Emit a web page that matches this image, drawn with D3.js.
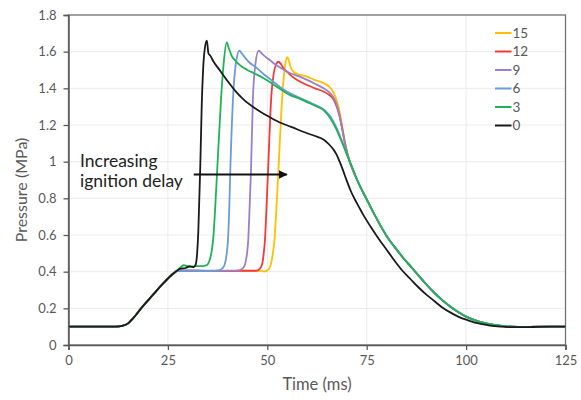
<!DOCTYPE html>
<html><head><meta charset="utf-8">
<script src="https://cdn.jsdelivr.net/npm/d3@7"></script>
<style>body{margin:0;background:#fff}svg{display:block}</style>
</head><body>
<svg id="c" width="581" height="400"></svg>
<script>
// ---- data (time ms, pressure MPa) ----
const seriesNames = ["15","12","9","6","3","0"];
const seriesColors = ["#FFC000","#F23A3A","#9B7FC9","#6C9BD6","#1DB356","#1a1a1a"];
const xTicks = [0,25,50,75,100,125];
const yTicks = [0,0.2,0.4,0.6,0.8,1,1.2,1.4,1.6,1.8];

const compressionRise = [[0,0.1],[5,0.1],[10,0.1],[12,0.1],[13.5,0.104],[15,0.118],[16,0.14],[17,0.165],[18,0.193],[20,0.243],[22,0.293],[24,0.34],[26,0.383],[27.3,0.405]];

const p15 = [[28,0.405],[32,0.405],[36,0.404],[40,0.404],[44,0.405],[48,0.404],[49.3,0.401],[50.2,0.41],[50.9,0.44],[51.4,0.5],[51.8,0.57],[52.3,0.75],[52.8,0.955],[53.6,1.3],[54.1,1.45],[54.6,1.54],[55.1,1.57],[55.5,1.545],[55.9,1.515],[56.6,1.49],[58,1.475],[60,1.464],[62,1.445],[64.2,1.428],[65.5,1.41],[66.3,1.39],[67.2,1.35],[68,1.29],[68.8,1.2],[69.6,1.1],[70.5,1.02],[71.5,0.96]];
const p12 = [[28,0.405],[32,0.405],[36,0.404],[40,0.404],[44,0.405],[47.2,0.405],[48.1,0.415],[48.7,0.44],[49.1,0.5],[49.4,0.57],[49.8,0.75],[50.2,0.955],[51,1.355],[51.6,1.48],[52.2,1.53],[52.8,1.545],[53.5,1.53],[54.2,1.505],[55,1.49],[56.2,1.465],[57.5,1.446],[60,1.418],[62,1.4],[64.2,1.382],[65.5,1.365],[66.5,1.345],[67.3,1.31],[68.1,1.255],[68.9,1.17],[69.7,1.08],[70.5,1.015],[71.5,0.955]];
const p9 = [[28,0.405],[32,0.405],[36,0.404],[40,0.405],[42.8,0.407],[43.8,0.418],[44.4,0.44],[44.9,0.5],[45.2,0.57],[45.55,0.75],[45.9,0.955],[46.4,1.355],[47,1.53],[47.8,1.605],[48.4,1.595],[49.1,1.58],[50.3,1.56],[51.6,1.537],[53.5,1.51],[55.8,1.482],[58,1.465],[60,1.446],[62,1.425],[64.2,1.4],[65.5,1.38],[66.5,1.355],[67.3,1.32],[68.1,1.26],[68.9,1.175],[69.7,1.085],[70.5,1.015],[71.5,0.955]];
const p6 = [[28,0.405],[32,0.405],[36,0.405],[37.7,0.407],[38.7,0.418],[39.3,0.44],[39.8,0.5],[40.1,0.57],[40.4,0.72],[40.7,0.955],[41.4,1.355],[42,1.52],[43,1.605],[43.6,1.59],[44.3,1.57],[45.3,1.545],[47.4,1.51],[49.5,1.47],[51.6,1.435],[54,1.395],[56,1.37],[58,1.35],[60,1.33],[62,1.31],[64.2,1.285],[65.9,1.245],[67.4,1.185],[68.9,1.105],[70.2,1.03],[71.5,0.96]];
const p3 = [[28,0.42],[29,0.435],[30.5,0.425],[32,0.43],[33.5,0.43],[34.2,0.432],[35,0.44],[35.6,0.47],[36,0.51],[36.4,0.58],[36.9,0.75],[37.4,0.955],[38.4,1.355],[39,1.53],[39.8,1.65],[40.3,1.62],[41.1,1.575],[42,1.55],[43.2,1.525],[45,1.5],[47.4,1.475],[49.5,1.45],[51.6,1.42],[54,1.385],[56,1.36],[58,1.345],[60,1.325],[62,1.305],[64.2,1.28],[65.9,1.235],[67.4,1.175],[68.9,1.1],[70.2,1.03],[71.5,0.96]];
const coloredTail = [[72.6,0.9],[75.1,0.79],[77.6,0.685],[80,0.595],[82,0.535],[84,0.48],[86,0.43],[88,0.38],[90,0.33],[92,0.285],[94,0.245],[96,0.21],[98,0.18],[100,0.155],[102,0.137],[104,0.123],[107,0.11],[110,0.102],[113,0.099],[116,0.099],[120,0.1],[125,0.1]];
const p0 = [[28,0.415],[29.5,0.42],[30.5,0.43],[31.5,0.425],[32,0.44],[32.35,0.5],[32.65,0.62],[32.9,0.8],[33.15,0.98],[33.5,1.3],[33.9,1.52],[34.3,1.62],[34.8,1.66],[35.2,1.59],[35.6,1.58],[36.5,1.545],[38,1.5],[40,1.44],[42,1.385],[44,1.34],[47,1.29],[50,1.25],[53,1.215],[56,1.19],[60,1.155],[62,1.14],[64.2,1.12],[65.5,1.095],[66.5,1.07],[67.4,1.04],[68.2,1.0],[69,0.955],[70,0.895],[71,0.84],[72,0.795],[73,0.755],[74,0.715],[76,0.645],[78,0.58],[80,0.52],[82,0.46],[84,0.405],[86,0.36],[88,0.315],[90,0.275],[92,0.24],[94,0.205],[96,0.178],[98,0.155],[100,0.138],[102,0.124],[104,0.114],[106,0.106],[108.7,0.1],[112,0.097],[115,0.097],[118,0.099],[121,0.1],[125,0.1]];

const seriesData = [
  compressionRise.concat(p15, coloredTail),
  compressionRise.concat(p12, coloredTail),
  compressionRise.concat(p9, coloredTail),
  compressionRise.concat(p6, coloredTail),
  compressionRise.concat(p3, coloredTail),
  compressionRise.concat(p0)
];
const annotationLines = ["Increasing","ignition delay"];
const arrowFrom = [31.5, 0.93], arrowTo = [54.9, 0.93];

// ---- drawing ----
const svg = d3.select("#c");
const L = 68.5, R = 565.5, T = 15, B = 345;
const x = d3.scaleLinear().domain([0,125]).range([L,R]);
const y = d3.scaleLinear().domain([0,1.8]).range([B,T]);
const font = "Lato, 'Open Sans', sans-serif";
const grey = "#595959";

// gridlines
svg.append("g").selectAll("line").data(yTicks).join("line")
  .attr("x1",L).attr("x2",R).attr("y1",d=>y(d)).attr("y2",d=>y(d))
  .attr("stroke","#ebebeb").attr("stroke-width",1);
svg.append("g").selectAll("line").data(xTicks).join("line")
  .attr("y1",T).attr("y2",B).attr("x1",d=>x(d)).attr("x2",d=>x(d))
  .attr("stroke","#ebebeb").attr("stroke-width",1);

// frame
svg.append("rect").attr("x",L).attr("y",T).attr("width",R-L).attr("height",B-T)
  .attr("fill","none").attr("stroke","#737373").attr("stroke-width",1.3);

// axes
const xAxis = d3.axisBottom(x).tickValues(xTicks).tickSize(5).tickPadding(6).tickFormat(d3.format("d"));
const gx = svg.append("g").attr("transform",`translate(0,${B})`).call(xAxis);
const yAxis = d3.axisLeft(y).tickValues(yTicks).tickSize(5).tickPadding(7).tickFormat(d=>d3.format("")(d));
const gy = svg.append("g").attr("transform",`translate(${L},0)`).call(yAxis);
[gx,gy].forEach(g=>{
  g.select(".domain").attr("stroke","#595959").attr("stroke-width",1.5);
  g.selectAll(".tick line").attr("stroke","#595959").attr("stroke-width",1.3);
  g.selectAll(".tick text").attr("fill",grey).attr("font-family",font).attr("font-size",13);
});

// axis titles
svg.append("text").attr("x",(L+R)/2).attr("y",390).attr("text-anchor","middle")
  .attr("font-family",font).attr("font-size",16.5).attr("fill",grey).text("Time (ms)");
svg.append("text").attr("transform",`translate(27,${(T+B)/2+10}) rotate(-90)`).attr("text-anchor","middle")
  .attr("font-family",font).attr("font-size",16).attr("fill",grey).text("Pressure (MPa)");

// series
const line = d3.line().x(d=>x(d[0])).y(d=>y(d[1])).curve(d3.curveMonotoneX);
[0,1,2,3,4,5].forEach(i=>{
  svg.append("path").datum(seriesData[i]).attr("d",line).attr("fill","none")
    .attr("stroke",seriesColors[i]).attr("stroke-width",1.8).attr("stroke-linejoin","round");
});

// annotation
svg.append("defs").append("marker").attr("id","ah").attr("viewBox","0 0 10 10")
  .attr("refX",9).attr("refY",5).attr("markerWidth",4.5).attr("markerHeight",4.5).attr("orient","auto")
  .append("path").attr("d","M0,0L10,5L0,10z").attr("fill","#111");
svg.append("line").attr("x1",x(arrowFrom[0])).attr("y1",y(arrowFrom[1])).attr("x2",x(arrowTo[0])).attr("y2",y(arrowTo[1]))
  .attr("stroke","#111").attr("stroke-width",2).attr("marker-end","url(#ah)");
svg.append("text").attr("font-family",font).attr("font-size",17.5).attr("fill","#222")
  .selectAll("tspan").data(annotationLines).join("tspan")
  .attr("x",80).attr("y",(d,i)=>166.5+i*20.5).text(d=>d);

// legend
const lg = svg.append("g");
seriesNames.forEach((n,i)=>{
  const yy = 33 + i*18.5;
  lg.append("line").attr("x1",495).attr("x2",511.5).attr("y1",yy).attr("y2",yy)
    .attr("stroke",seriesColors[i]).attr("stroke-width",2);
  lg.append("text").attr("x",512.5).attr("y",yy+4.6).attr("font-family",font).attr("font-size",13.5)
    .attr("fill",grey).text(n);
});
</script>
</body></html>
